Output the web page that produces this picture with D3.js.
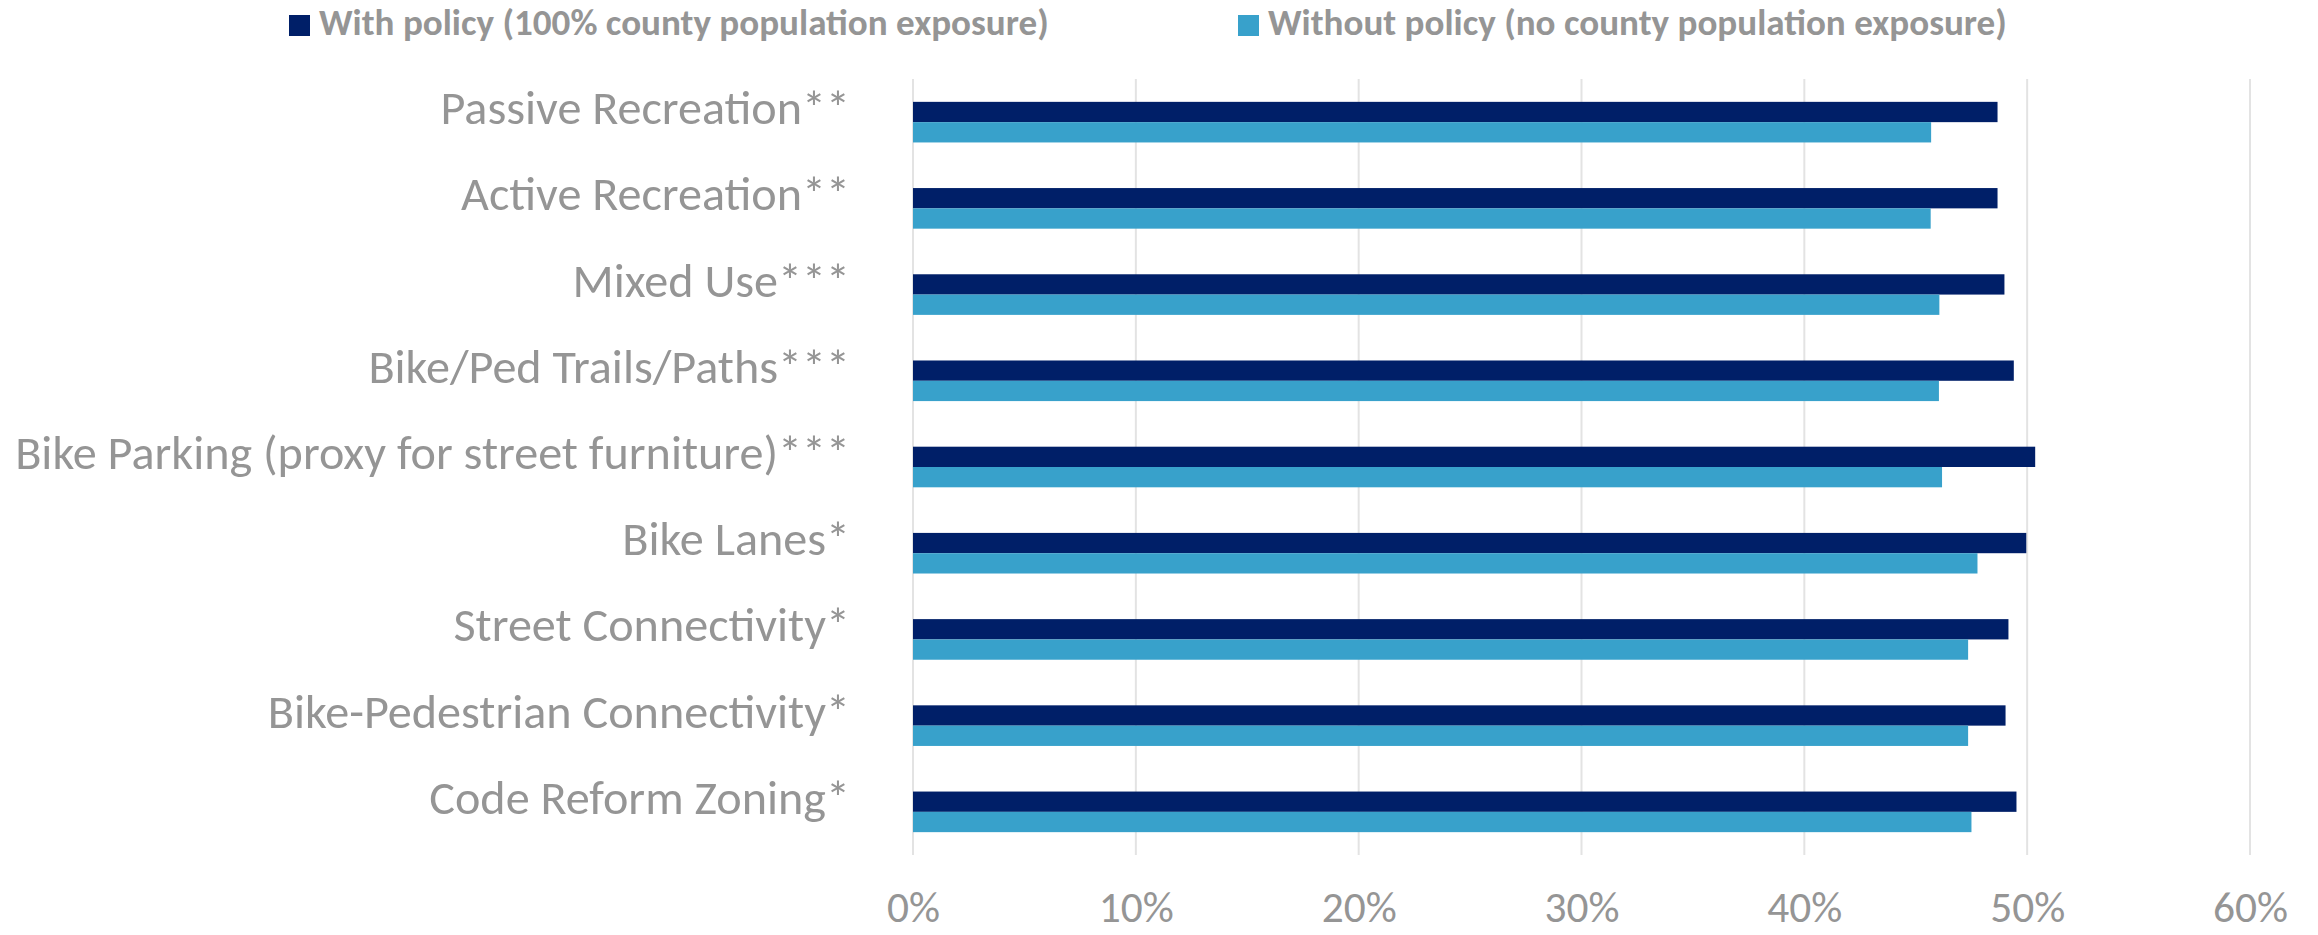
<!DOCTYPE html>
<html>
<head>
<meta charset="utf-8">
<script src="https://cdn.jsdelivr.net/npm/d3@7"></script>
<style>
  html, body { margin: 0; padding: 0; background: #ffffff; }
  svg { display: block; }
  text { font-family: Carlito, Calibri, Lato, "Open Sans", sans-serif; fill: #959595; }
</style>
</head>
<body>
<svg id="chart" width="2318" height="935"></svg>
<script>
// Built-environment policies, top to bottom
const categories = [
  "Passive Recreation**",
  "Active Recreation**",
  "Mixed Use***",
  "Bike/Ped Trails/Paths***",
  "Bike Parking (proxy for street furniture)***",
  "Bike Lanes*",
  "Street Connectivity*",
  "Bike-Pedestrian Connectivity*",
  "Code Reform Zoning*"
];

// Percent values per series
const withPolicy    = [48.67, 48.67, 48.98, 49.40, 50.36, 49.96, 49.16, 49.03, 49.52];
const withoutPolicy = [45.69, 45.67, 46.06, 46.04, 46.18, 47.77, 47.35, 47.35, 47.50];

const seriesNames = [
  "With policy (100% county population exposure)",
  "Without policy (no county population exposure)"
];
const seriesColors = ["#001F68", "#38A1CB"];

const tickValues = [0, 10, 20, 30, 40, 50, 60];

const svg = d3.select("#chart");
const plot = { left: 913, right: 2250, top: 79, bottom: 855 };

const x = d3.scaleLinear().domain([0, 60]).range([plot.left, plot.right]);
const y = d3.scaleBand()
  .domain(categories)
  .range([plot.top, plot.bottom])
  .paddingInner(0.529)
  .paddingOuter(0.265);
const ySeries = d3.scaleBand().domain([0, 1]).range([0, y.bandwidth()]).padding(0);

// Font size at which a text renders at the given width
function fitFont(targetWidth, refText, weight) {
  const probe = svg.append("text").attr("font-size", 100)
    .attr("font-weight", weight || null)
    .text(refText);
  const w = probe.node().getComputedTextLength();
  probe.remove();
  return 100 * targetWidth / w;
}

// Vertical gridlines
svg.append("g")
  .selectAll("line")
  .data(tickValues)
  .join("line")
  .attr("x1", d => x(d)).attr("x2", d => x(d))
  .attr("y1", plot.top).attr("y2", plot.bottom)
  .attr("stroke", "#E3E3E3")
  .attr("stroke-width", 2);

// Bars
const rows = categories.map((c, i) => ({ c, v: [withPolicy[i], withoutPolicy[i]] }));
const groups = svg.append("g").selectAll("g")
  .data(rows)
  .join("g")
  .attr("transform", d => `translate(0,${y(d.c)})`);

groups.selectAll("rect")
  .data(d => d.v.map((v, k) => ({ v, k })))
  .join("rect")
  .attr("x", x(0))
  .attr("y", d => ySeries(d.k))
  .attr("width", d => x(d.v) - x(0))
  .attr("height", ySeries.bandwidth())
  .attr("fill", d => seriesColors[d.k]);

// Category labels
const longest = categories.reduce((a, b) => (b.length > a.length ? b : a));
const catSize = fitFont(835, longest);
svg.append("g")
  .selectAll("text")
  .data(categories)
  .join("text")
  .attr("x", 850)
  .attr("y", d => y(d) + y.bandwidth() / 2 + 2)
  .attr("text-anchor", "end")
  .attr("font-size", catSize)
  .text(d => d);

// X axis tick labels
const tickSize = fitFont(75, "10%");
const xAxis = d3.axisBottom(x)
  .tickValues(tickValues)
  .tickFormat(d => d + "%")
  .tickSize(0)
  .tickPadding(0);
const axisG = svg.append("g")
  .attr("transform", `translate(0,${plot.bottom})`)
  .call(xAxis);
axisG.select(".domain").remove();
axisG.attr("font-family", null).attr("font-size", null);
axisG.selectAll("text")
  .attr("dy", null)
  .attr("y", 922 - plot.bottom)
  .attr("font-size", tickSize)
  .attr("fill", "#959595");

// Legend
const legendX = [289, 1238];
const legSize = fitFont(730, seriesNames[0], "bold");
const legend = svg.append("g").selectAll("g")
  .data(seriesNames)
  .join("g")
  .attr("transform", (d, i) => `translate(${legendX[i]},0)`);
legend.append("rect")
  .attr("x", 0).attr("y", 15)
  .attr("width", 21).attr("height", 21)
  .attr("fill", (d, i) => seriesColors[i]);
legend.append("text")
  .attr("x", 30).attr("y", 35)
  .attr("font-weight", "bold")
  .attr("font-size", legSize)
  .text(d => d);
</script>
</body>
</html>
